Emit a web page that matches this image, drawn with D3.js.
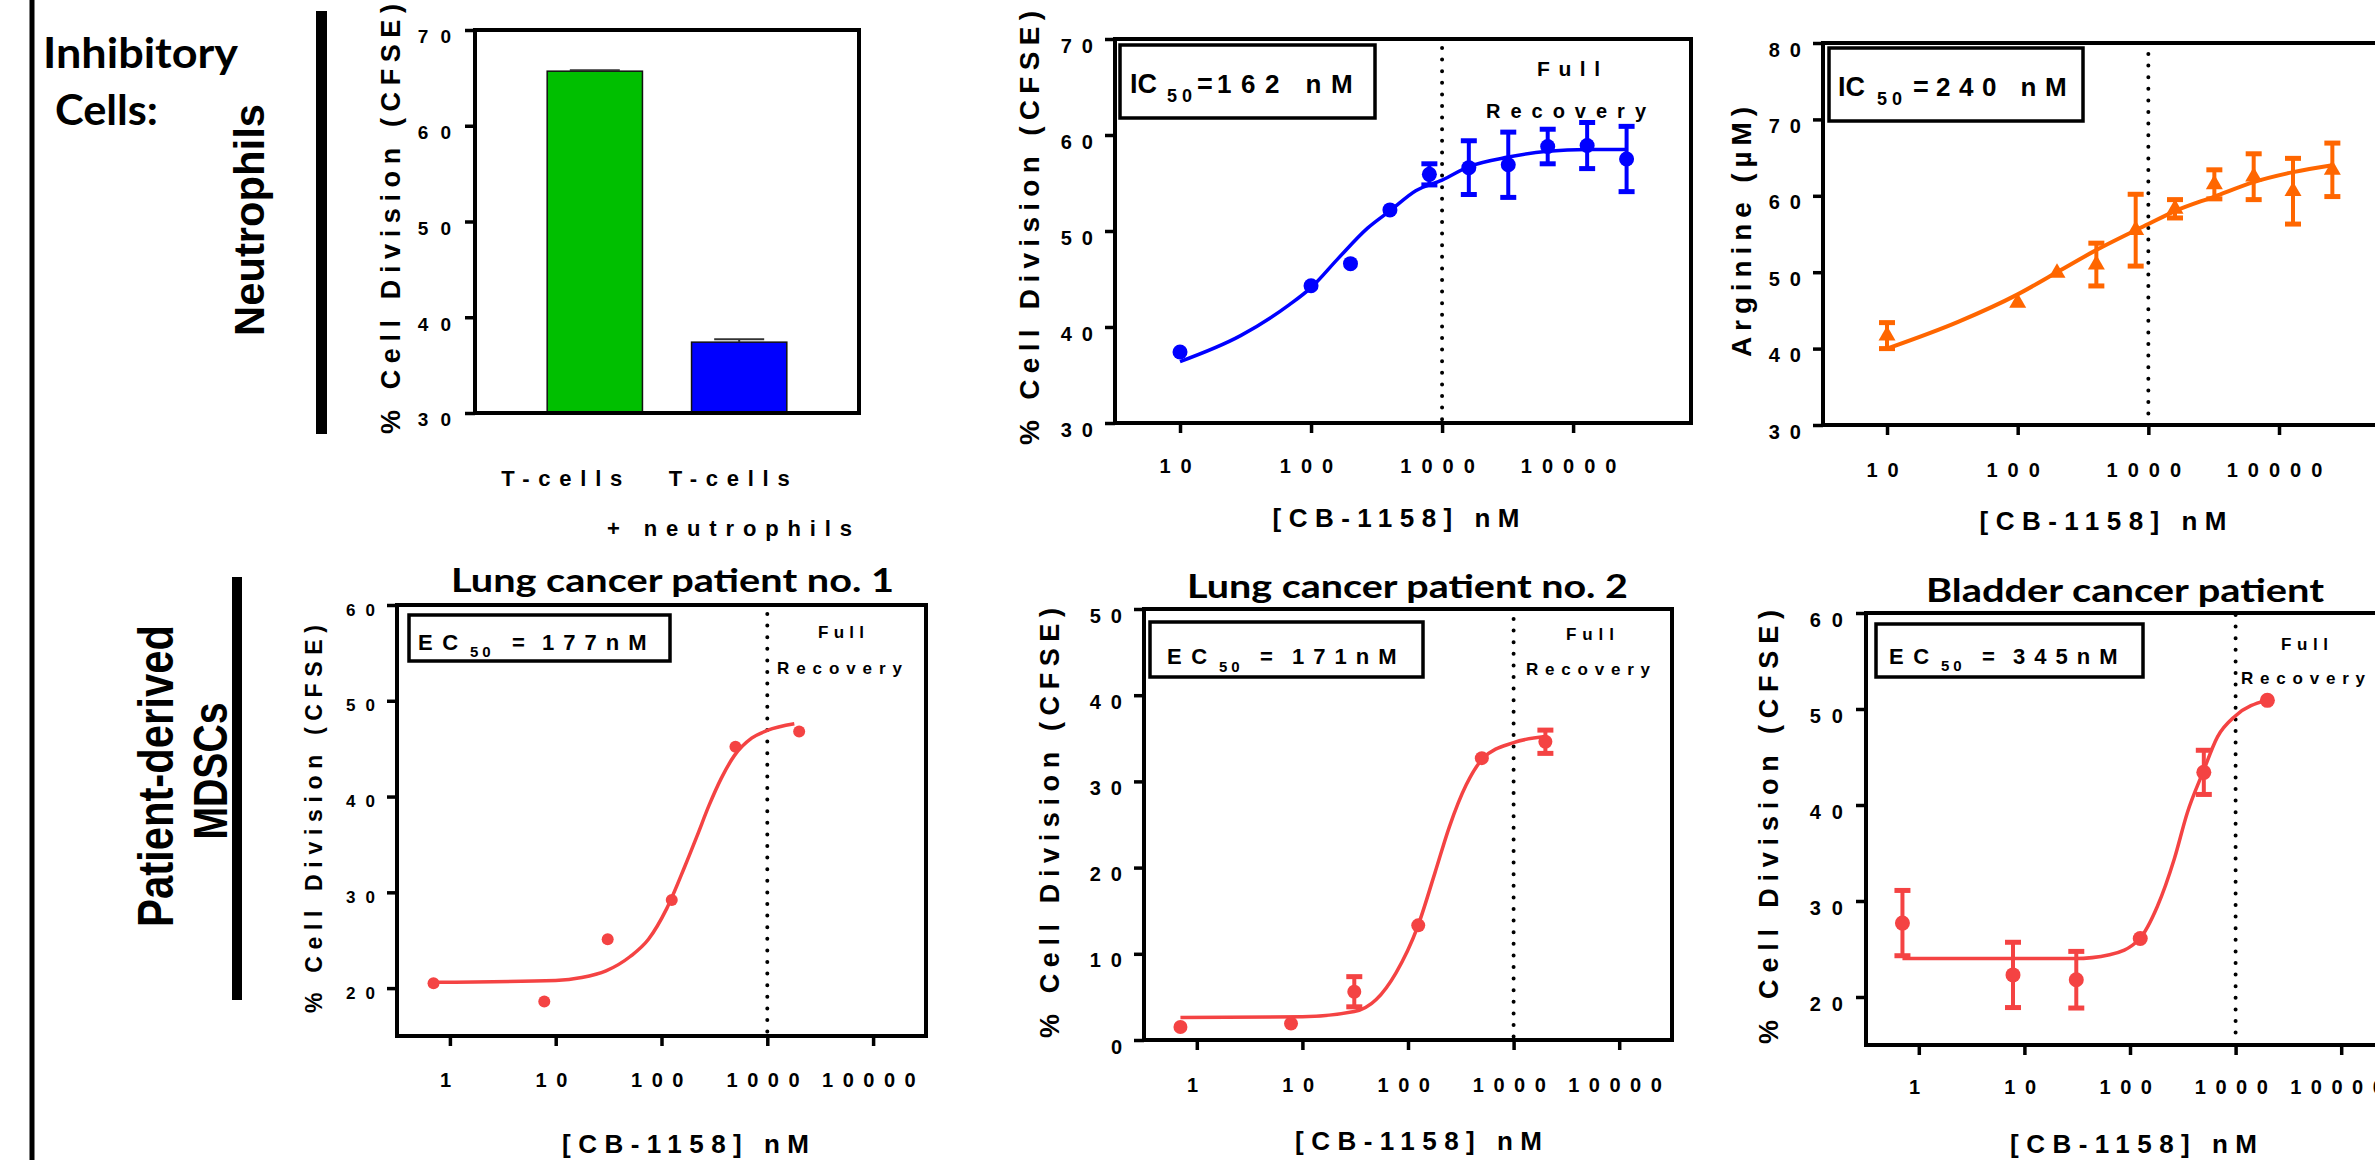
<!DOCTYPE html>
<html><head><meta charset="utf-8">
<script src="https://cdn.jsdelivr.net/npm/d3@7/dist/d3.min.js"></script>
<style>
html,body{margin:0;padding:0;background:#fff;overflow:hidden}
svg{display:block}
text{font-family:"Liberation Sans",Arial,sans-serif;font-weight:bold;fill:#000}
text.cal{font-family:Lato,"Open Sans",sans-serif;font-weight:700}
</style></head><body>
<svg id="fig" width="2375" height="1160"></svg>
<script>
// ================= DATA =================
const barCategories = ["T-cells", "T-cells + neutrophils"];
const barValues = [65.7, 37.4];
const barErrors = [0.1, 0.3];
const barColors = ["#00bf00", "#0000ff"];
const barTicks = [30, 40, 50, 60, 70];

const neutDose = [10, 100, 200, 400, 800, 1600, 3200, 6400, 12800, 25600];
const neutDivision = [37.4, 44.3, 46.6, 52.2, 55.9, 56.6, 56.9, 58.8, 58.9, 57.5];
const neutDivisionErr = [0, 0, 0, 0, 1.1, 2.8, 3.4, 1.8, 2.4, 3.4];
const neutFitDose = [10, 29, 68, 100, 160, 270, 400, 630, 1000, 1600, 3200, 6400, 12800, 25600];
const neutFitDivision = [36.4, 39.1, 42.3, 44.1, 47.1, 50.3, 52.1, 54.2, 55.3, 56.7, 57.7, 58.3, 58.5, 58.5];

const argDose = [10, 100, 200, 400, 800, 1600, 3200, 6400, 12800, 25600];
const argArginine = [41.7, 46.0, 49.9, 51.0, 55.5, 58.3, 61.5, 62.5, 60.6, 63.4];
const argArginineErr = [1.7, 0, 0, 2.8, 4.7, 1.2, 1.9, 3.0, 4.3, 3.5];
const argFitDose = [10, 35, 100, 200, 400, 1000, 1600, 3200, 6400, 12800, 25600];
const argFitArginine = [40.0, 43.5, 47.1, 50.0, 52.9, 56.3, 58.0, 59.9, 61.8, 63.1, 64.0];

const patientDose = [0.7, 7.8, 31, 125, 500, 2000];
const lung1Division = [20.5, 18.6, 25.1, 29.2, 45.2, 46.8];
const lung1Err = [0, 0, 0, 0, 0, 0];
const lung1FitDose = [0.7, 10, 17.6, 29.9, 50.6, 75.3, 112, 166, 217, 282, 367, 490, 711, 1000, 1800];
const lung1FitDivision = [20.6, 20.8, 21.1, 21.8, 23.3, 25.1, 28.3, 32.7, 35.9, 39.1, 41.9, 44.3, 46.1, 46.9, 47.6];

const lung2Division = [1.5, 1.9, 5.6, 13.3, 32.7, 34.6];
const lung2Err = [0, 0, 1.75, 0, 0, 1.35];
const lung2FitDose = [0.7, 10, 31, 50, 77, 123, 179, 246, 356, 516, 1000, 2000];
const lung2FitDivision = [2.6, 2.7, 3.3, 4.7, 7.8, 13.1, 19.3, 24.7, 29.6, 32.7, 34.5, 35.2];

const bladderDivision = [27.7, 22.3, 21.8, 26.1, 43.4, 50.9];
const bladderErr = [3.4, 3.4, 2.95, 0, 2.3, 0];
const bladderFitDose = [0.7, 6.1, 30, 64, 122, 181, 263, 349, 490, 674, 1000, 1950];
const bladderFitDivision = [24.0, 24.0, 24.0, 24.4, 26.0, 29.4, 34.4, 39.2, 43.4, 47.1, 49.3, 50.9];

const logTicks = [10, 100, 1000, 10000];
const patientLogTicks = [1, 10, 100, 1000, 10000];
const neutTicks = [30, 40, 50, 60, 70];
const argTicks = [30, 40, 50, 60, 70, 80];
const mdscTicks = [20, 30, 40, 50, 60];
const lung2Ticks = [0, 10, 20, 30, 40, 50];

// ================= DRAWING =================
const svg = d3.select("#fig");
svg.append("rect").attr("width", 2375).attr("height", 1160).attr("fill", "#fff");

function rotText(x, y, str, fs, len, adjust, cls) {
  const t = svg.append("text")
    .attr("transform", `translate(${x},${y}) rotate(-90)`)
    .attr("text-anchor", "middle").attr("font-size", fs)
    .attr("textLength", len).attr("lengthAdjust", adjust || "spacing")
    .text(str);
  if (cls) t.attr("class", cls);
  return t;
}
function plainText(x, y, str, fs, len, anchor, adjust, cls) {
  const t = svg.append("text").attr("x", x).attr("y", y).attr("font-size", fs)
    .attr("text-anchor", anchor || "start").text(str);
  if (len) t.attr("textLength", len).attr("lengthAdjust", adjust || "spacing");
  if (cls) t.attr("class", cls);
  return t;
}

// left figure border
svg.append("line").attr("x1", 32).attr("x2", 32).attr("y1", 0).attr("y2", 1160)
  .attr("stroke", "#000").attr("stroke-width", 5);

// row headings
plainText(43, 68, "Inhibitory", 42, 195, "start", "spacingAndGlyphs", "cal");
plainText(55, 125, "Cells:", 42, 103, "start", "spacingAndGlyphs", "cal");
rotText(264, 220, "Neutrophils", 43, 232, "spacingAndGlyphs");
svg.append("rect").attr("x", 316).attr("y", 11).attr("width", 11).attr("height", 423).attr("fill", "#000");
rotText(173, 776, "Patient-derived", 50, 302, "spacingAndGlyphs");
rotText(227, 771, "MDSCs", 48, 137, "spacingAndGlyphs");
svg.append("rect").attr("x", 232).attr("y", 577).attr("width", 10).attr("height", 423).attr("fill", "#000");

function styleAxis(a, fs, ls) {
  a.attr("font-family", null).attr("font-size", fs).attr("fill", null);
  a.select(".domain").remove();
  a.selectAll(".tick line").attr("stroke", "#000").attr("stroke-width", 3.5);
  a.selectAll(".tick text").attr("letter-spacing", ls);
}

// ---------- Panel A: bar chart ----------
(function () {
  const L = 475, R = 859, T = 30, B = 413;
  const g = svg.append("g");
  const x = d3.scaleBand().domain(barCategories).range([L, R]).paddingInner(0.34).paddingOuter(0.5);
  const y = d3.scaleLinear().domain([30, 70]).range([B, T]);
  const ya = g.append("g").attr("transform", `translate(${L},0)`)
    .call(d3.axisLeft(y).tickValues(barTicks).tickSize(10).tickPadding(2).tickFormat(d3.format("d")));
  styleAxis(ya, 19, 12);
  ya.selectAll(".tick text").attr("dy", "0.68em");
  g.selectAll(".bar").data(barValues).join("rect")
    .attr("x", (d, i) => x(barCategories[i])).attr("y", d => y(d))
    .attr("width", x.bandwidth()).attr("height", d => y(30) - y(d))
    .attr("fill", (d, i) => barColors[i]).attr("stroke", "#111").attr("stroke-width", 1.5);
  barValues.forEach((v, i) => {
    const cx = x(barCategories[i]) + x.bandwidth() / 2;
    g.append("line").attr("x1", cx).attr("x2", cx).attr("y1", y(v)).attr("y2", y(v + barErrors[i]))
      .attr("stroke", "#333").attr("stroke-width", 2);
    g.append("line").attr("x1", cx - 25).attr("x2", cx + 25).attr("y1", y(v + barErrors[i])).attr("y2", y(v + barErrors[i]))
      .attr("stroke", "#333").attr("stroke-width", 2);
  });
  g.append("rect").attr("x", L).attr("y", T).attr("width", R - L).attr("height", B - T)
    .attr("fill", "none").attr("stroke", "#000").attr("stroke-width", 4);
  const shifts = [-33, -10];
  barCategories.forEach((c, i) => {
    const parts = c.split(" + ");
    plainText(x(c) + x.bandwidth() / 2 + shifts[i], 486, parts[0], 22, 121, "middle");
    if (parts[1]) plainText(607, 536, "+ " + parts[1], 22, 245, "start");
  });
  rotText(400, 219, "% Cell Division (CFSE)", 27, 430);
})();

// ---------- Dose–response panels ----------
function dosePanel(c) {
  const g = svg.append("g");
  const x = d3.scaleLog().domain(c.xDomain).range([c.l, c.r]);
  const y = d3.scaleLinear().domain(c.yDomain).range([c.b, c.t]);
  const ya = g.append("g").attr("transform", `translate(${c.l},0)`)
    .call(d3.axisLeft(y).tickValues(c.yTicks).tickSize(10).tickPadding(2).tickFormat(d3.format("d")));
  styleAxis(ya, c.yfs, c.yls);
  ya.selectAll(".tick text").attr("dy", c.ydy);
  const xa = g.append("g").attr("transform", `translate(0,${c.b})`)
    .call(d3.axisBottom(x).tickValues(c.xTicks).tickSize(10).tickPadding(c.xpad).tickFormat(d3.format("d")));
  styleAxis(xa, c.xfs, c.xls);
  g.append("rect").attr("x", c.l).attr("y", c.t).attr("width", c.r - c.l).attr("height", c.b - c.t)
    .attr("fill", "none").attr("stroke", "#000").attr("stroke-width", 4);
  // dotted "full recovery" line at 1000 nM
  g.append("line").attr("x1", x(1000)).attr("x2", x(1000)).attr("y1", c.dotTop).attr("y2", c.b - 3)
    .attr("stroke", "#000").attr("stroke-width", 4).attr("stroke-linecap", "round")
    .attr("stroke-dasharray", "0 11.6");
  // fitted curve
  g.append("path").datum(d3.zip(c.fitX, c.fitY))
    .attr("d", d3.line().x(d => x(d[0])).y(d => y(d[1])).curve(d3.curveMonotoneX))
    .attr("fill", "none").attr("stroke", c.color).attr("stroke-width", c.lw);
  // error bars
  const pts = c.dose.map((d, i) => ({ d, v: c.vals[i], e: c.errs[i] }));
  pts.filter(p => p.e > 0).forEach(p => {
    const px = x(p.d);
    g.append("line").attr("x1", px).attr("x2", px).attr("y1", y(p.v - p.e)).attr("y2", y(p.v + p.e))
      .attr("stroke", c.color).attr("stroke-width", 4);
    [p.v - p.e, p.v + p.e].forEach(v => {
      g.append("line").attr("x1", px - 8).attr("x2", px + 8).attr("y1", y(v)).attr("y2", y(v))
        .attr("stroke", c.color).attr("stroke-width", 5);
    });
  });
  // markers
  if (c.marker === "triangle") {
    g.selectAll(".mk").data(pts).join("path")
      .attr("transform", p => `translate(${x(p.d)},${y(p.v)})`)
      .attr("d", d3.symbol(d3.symbolTriangle, 125)).attr("fill", c.color);
  } else {
    g.selectAll(".mk").data(pts).join("circle")
      .attr("cx", p => x(p.d)).attr("cy", p => y(p.v)).attr("r", c.r0).attr("fill", c.color);
  }
  // labels
  rotText(c.ylab[0], c.ylab[1], c.ylabel, c.ylab[2], c.ylab[3]);
  plainText(c.xlab[0], c.xlab[1], "[CB-1158] nM", 26, 247, "middle");
  if (c.title) plainText(c.title[0], c.title[1], c.title[2], 33, c.title[3], "start", "spacingAndGlyphs", "cal");
  // EC50 / IC50 box
  g.append("rect").attr("x", c.box[0]).attr("y", c.box[1]).attr("width", c.box[2]).attr("height", c.box[3])
    .attr("fill", "#fff").attr("stroke", "#000").attr("stroke-width", 3.5);
  c.boxText.forEach(s => {
    svg.append("text").attr("x", s[1]).attr("y", s[2]).attr("font-size", s[3])
      .attr("letter-spacing", s[4]).text(s[0]);
  });
  if (c.full) {
    plainText(c.full[0], c.full[1], "Full", c.full[3], c.full[2]);
    plainText(c.rec[0], c.rec[1], "Recovery", c.rec[3], c.rec[2]);
  }
}

// Panel B: neutrophils – cell division
dosePanel({
  l: 1115, r: 1691, t: 39, b: 423, xDomain: [3.19, 79400], yDomain: [30, 70],
  yTicks: neutTicks, xTicks: logTicks, yfs: 20, yls: 10, ydy: "0.65em", xfs: 20, xls: 10, xpad: 26,
  dose: neutDose, vals: neutDivision, errs: neutDivisionErr, fitX: neutFitDose, fitY: neutFitDivision,
  color: "#0000ff", lw: 3.5, marker: "circle", r0: 7.5, dotTop: 48,
  ylabel: "% Cell Division (CFSE)", ylab: [1039, 228, 28, 434], xlab: [1396, 527],
  box: [1120, 45, 255, 73],
  boxText: [["IC", 1130, 93, 27, 0], ["50", 1167, 102, 18, 5], ["=", 1197, 93, 27, 0], ["162 nM", 1217, 93, 26, 9.5]],
  full: [1537, 76, 63, 21], rec: [1486, 118, 160, 20]
});

// Panel C: neutrophils – arginine
dosePanel({
  l: 1823, r: 2400, t: 43, b: 425, xDomain: [3.236, 84330], yDomain: [30, 80],
  yTicks: argTicks, xTicks: logTicks, yfs: 20, yls: 10, ydy: "0.65em", xfs: 20, xls: 10, xpad: 27.8,
  dose: argDose, vals: argArginine, errs: argArginineErr, fitX: argFitDose, fitY: argFitArginine,
  color: "#ff6600", lw: 4, marker: "triangle", dotTop: 54,
  ylabel: "Arginine (µM)", ylab: [1751, 232, 28, 250], xlab: [2103, 530],
  box: [1829, 48, 254, 73],
  boxText: [["IC", 1838, 96, 27, 0], ["50", 1877, 105, 18, 5], ["=", 1913, 96, 27, 0], ["240 nM", 1936, 96, 26, 8.5]]
});

// Panel D: lung cancer patient no. 1
dosePanel({
  l: 397, r: 926, t: 605, b: 1036, xDomain: [0.3162, 31623], yDomain: [15, 60],
  yTicks: mdscTicks, xTicks: patientLogTicks, yfs: 17, yls: 10, ydy: "0.6em", xfs: 20, xls: 9.5, xpad: 26.8,
  dose: patientDose, vals: lung1Division, errs: lung1Err, fitX: lung1FitDose, fitY: lung1FitDivision,
  color: "#f44343", lw: 3.5, marker: "circle", r0: 6, dotTop: 614,
  ylabel: "% Cell Division (CFSE)", ylab: [322, 819, 23, 388], xlab: [685.5, 1153],
  title: [451, 592, "Lung cancer patient no. 1", 443],
  box: [409, 615, 261, 46],
  boxText: [["EC", 418, 650, 22, 9.5], ["50", 470, 656.5, 15, 4], ["=", 512, 650, 22, 0], ["177nM", 542, 650, 22, 9]],
  full: [818, 638, 46, 17], rec: [777, 674, 125, 17]
});

// Panel E: lung cancer patient no. 2
dosePanel({
  l: 1144, r: 1672, t: 609, b: 1040, xDomain: [0.3162, 31623], yDomain: [0, 50],
  yTicks: lung2Ticks, xTicks: patientLogTicks, yfs: 20, yls: 10, ydy: "0.65em", xfs: 20, xls: 9.5, xpad: 27.8,
  dose: patientDose, vals: lung2Division, errs: lung2Err, fitX: lung2FitDose, fitY: lung2FitDivision,
  color: "#f44343", lw: 3.5, marker: "circle", r0: 7, dotTop: 619,
  ylabel: "% Cell Division (CFSE)", ylab: [1059, 823, 27, 430], xlab: [1418.5, 1150],
  title: [1187, 598, "Lung cancer patient no. 2", 441],
  box: [1150, 622, 273, 55],
  boxText: [["EC", 1167, 664, 22, 9.5], ["50", 1219, 672, 15, 4], ["=", 1260, 664, 22, 0], ["171nM", 1292, 664, 22, 9]],
  full: [1566, 640, 48, 17], rec: [1526, 675, 124, 17]
});

// Panel F: bladder cancer patient
dosePanel({
  l: 1866, r: 2394, t: 613, b: 1045, xDomain: [0.3162, 31623], yDomain: [15, 60],
  yTicks: mdscTicks, xTicks: patientLogTicks, yfs: 20, yls: 11, ydy: "0.65em", xfs: 20, xls: 9.5, xpad: 24.8,
  dose: patientDose, vals: bladderDivision, errs: bladderErr, fitX: bladderFitDose, fitY: bladderFitDivision,
  color: "#f44343", lw: 3.5, marker: "circle", r0: 7.5, dotTop: 615,
  ylabel: "% Cell Division (CFSE)", ylab: [1778, 827, 27, 434], xlab: [2133.5, 1153],
  title: [1926, 602, "Bladder cancer patient", 398],
  box: [1876, 624, 267, 53],
  boxText: [["EC", 1889, 664, 22, 9.5], ["50", 1941, 671, 15, 4], ["=", 1982, 664, 22, 0], ["345nM", 2013, 664, 22, 9]],
  full: [2281, 650, 47, 17], rec: [2241, 684, 124, 17]
});
</script></body></html>
